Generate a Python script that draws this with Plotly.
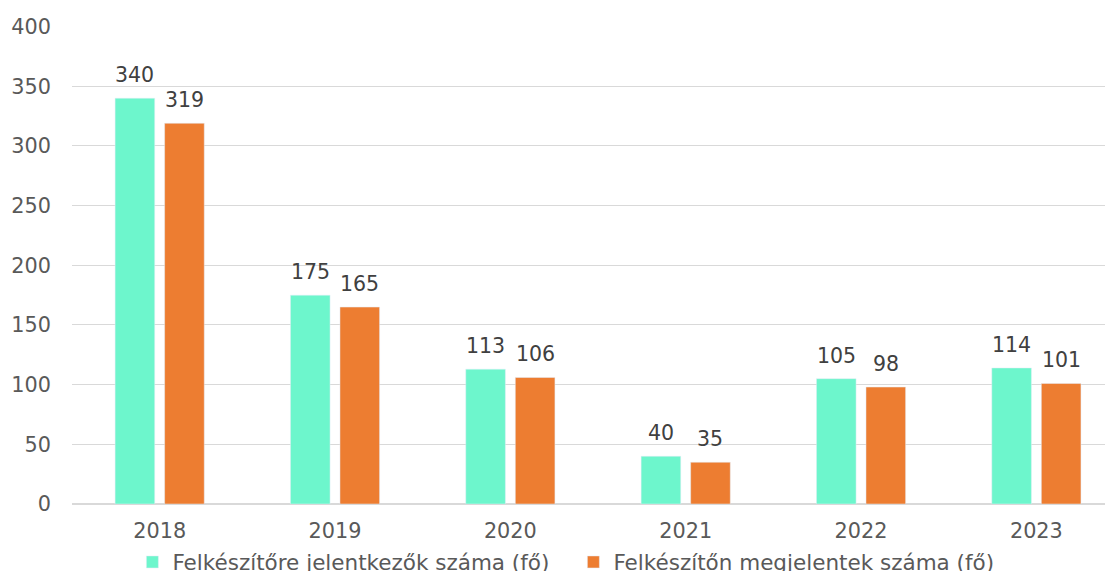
import plotly.graph_objects as go

years = ["2018", "2019", "2020", "2021", "2022", "2023"]
jelentkezok = [340, 175, 113, 40, 105, 114]
megjelentek = [319, 165, 106, 35, 98, 101]
series_names = ["Felkészítőre jelentkezők száma (fő)", "Felkészítőn megjelentek száma (fő)"]
colors = ["#6DF6CC", "#ED7D31"]

FONT = "DejaVu Sans, Verdana, sans-serif"
TXT = "#595959"

fig = go.Figure()
fig.add_trace(go.Bar(x=years, y=jelentkezok, name=series_names[0], marker_color=colors[0]))
fig.add_trace(go.Bar(x=years, y=megjelentek, name=series_names[1], marker_color=colors[1]))

bargap = 0.435
bargroupgap = 0.2
half = (1 - bargap) / 4
for i, (a, b) in enumerate(zip(jelentkezok, megjelentek)):
    for val, off in ((a, -half), (b, half)):
        fig.add_annotation(x=i + off, y=val, xref="x", yref="y", text=str(val),
                           showarrow=False, yanchor="bottom", yshift=9,
                           font=dict(family=FONT, size=20.5, color="#404040"))

# page body has an 8px default margin, so the figure's margins compensate for it
fig.update_layout(
    width=1113, height=571,
    margin=dict(l=64, r=8, t=18, b=75, autoexpand=False),
    paper_bgcolor="white", plot_bgcolor="white",
    barmode="group", bargap=bargap, bargroupgap=bargroupgap,
    font=dict(family=FONT, size=20.5, color=TXT),
    showlegend=True,
    legend=dict(orientation="h", x=0.058, xanchor="left", y=-0.1213, yanchor="middle",
                entrywidth=396, entrywidthmode="pixels",
                font=dict(family=FONT, size=21.5, color=TXT)),
    xaxis=dict(type="category", range=[-0.5, 5.437], showgrid=False, ticks="",
               automargin=False, showline=False, tickfont=dict(size=20.8, color=TXT),
               ticklabelstandoff=12),
    yaxis=dict(range=[0, 400.5], dtick=50, showgrid=True, gridcolor="#D9D9D9", gridwidth=1,
               zeroline=True, zerolinecolor="#D9D9D9", zerolinewidth=1.5, automargin=False,
               showline=False, ticks="", tickfont=dict(size=20.8, color=TXT),
               ticklabelstandoff=20),
)

fig.write_html("out.html")
